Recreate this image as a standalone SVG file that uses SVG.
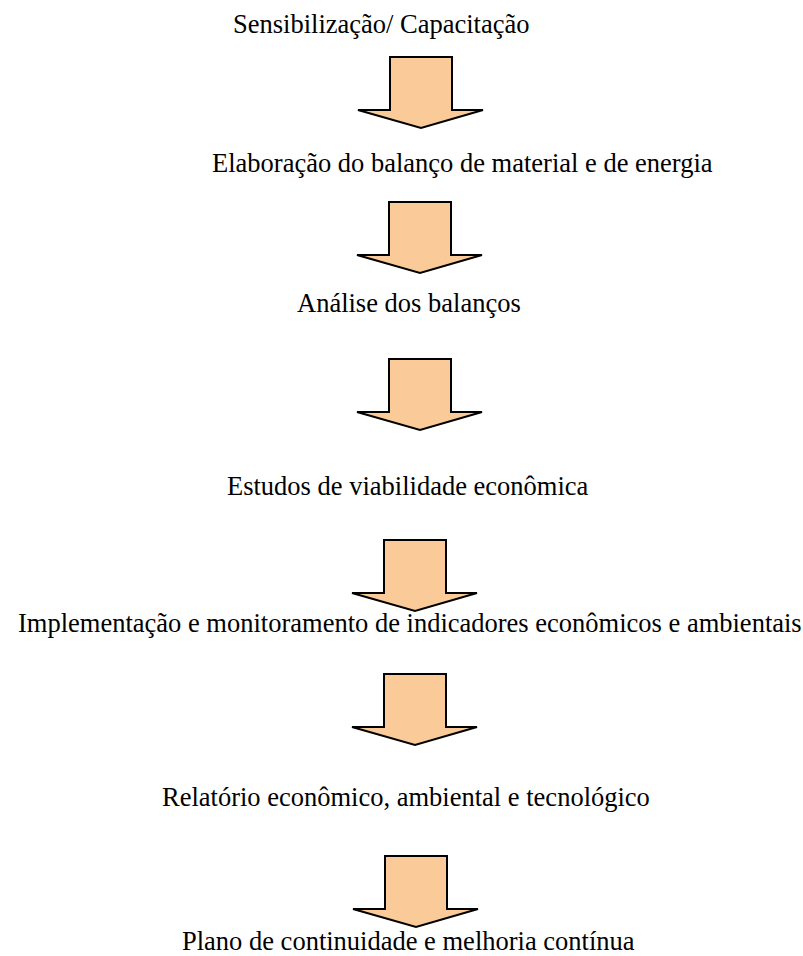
<svg xmlns="http://www.w3.org/2000/svg" xmlns:xlink="http://www.w3.org/1999/xlink" width="803" height="956" viewBox="0 0 803 956">
<style>
.t{font-family:"Liberation Serif","Times New Roman",serif;font-size:26.5px;fill:#000;}
.arr{fill:#FACB98;stroke:#000;stroke-width:2;stroke-linejoin:miter;}
</style>
<defs>
<path id="ba" class="arr" d="M0,0 H62 V53 H93 L31,71 L-32,53 H0 Z"/>
</defs>
<rect width="803" height="956" fill="#fff"/>
<g id="connectors">
<use xlink:href="#ba" href="#ba" x="390" y="57"/>
<use xlink:href="#ba" href="#ba" x="389" y="202"/>
<use xlink:href="#ba" href="#ba" x="389" y="359"/>
<use xlink:href="#ba" href="#ba" x="384" y="540"/>
<use xlink:href="#ba" href="#ba" x="384" y="674"/>
<use xlink:href="#ba" href="#ba" x="385" y="856"/>
</g>
<g id="n1"><text class="t" x="233" y="33">Sensibilização/ Capacitação</text></g>
<g id="n2"><text class="t" x="212" y="172">Elaboração do balanço de material e de energia</text></g>
<g id="n3"><text class="t" x="297" y="312">Análise dos balanços</text></g>
<g id="n4"><text class="t" x="227" y="495">Estudos de viabilidade econômica</text></g>
<g id="n5"><text class="t" x="18" y="632">Implementação e monitoramento de indicadores econômicos e ambientais</text></g>
<g id="n6"><text class="t" x="162" y="806">Relatório econômico, ambiental e tecnológico</text></g>
<g id="n7"><text class="t" x="182" y="950">Plano de continuidade e melhoria contínua</text></g>
</svg>
